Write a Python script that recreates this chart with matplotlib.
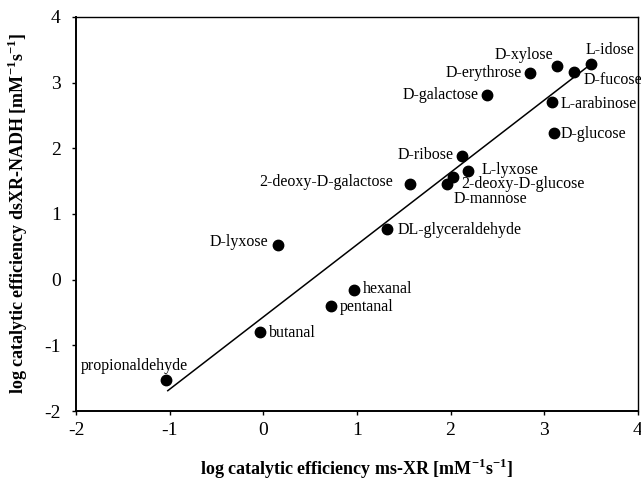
import numpy as np
import matplotlib
matplotlib.use('Agg')
import matplotlib.pyplot as plt

plt.rcParams['font.family'] = ['Liberation Serif', 'DejaVu Serif']
plt.rcParams['mathtext.fontset'] = 'custom'
plt.rcParams['mathtext.rm'] = 'Liberation Serif'
plt.rcParams['mathtext.bf'] = 'Liberation Serif:bold'
plt.rcParams['axes.unicode_minus'] = False

# substrates
names = ['propionaldehyde', 'butanal', 'pentanal', 'hexanal', 'D-lyxose',
         'DL-glyceraldehyde', '2-deoxy-D-galactose', 'D-mannose',
         '2-deoxy-D-glucose', 'L-lyxose', 'D-ribose', 'D-galactose',
         'D-erythrose', 'D-xylose', 'L-idose', 'D-fucose', 'L-arabinose',
         'D-glucose']
ms_xr = [-1.04, -0.03, 0.72, 0.97, 0.16, 1.32, 1.57, 1.96, 2.03, 2.19,
         2.12, 2.39, 2.85, 3.14, 3.50, 3.32, 3.08, 3.10]
ds_xr = [-1.53, -0.80, -0.40, -0.15, 0.52, 0.77, 1.45, 1.45, 1.56, 1.66,
         1.88, 2.81, 3.15, 3.25, 3.28, 3.16, 2.70, 2.24]

# regression line as drawn
fit_slope = 1.10
fit_intercept = -0.568
fit_xrange = [-1.02, 3.45]

# label placement: offset in pixels (dx, dy), horizontal alignment
label_pos = {
    'propionaldehyde': (-32, 14, 'center'),
    'butanal': (8, -1, 'left'),
    'pentanal': (9, -1, 'left'),
    'hexanal': (9, 1, 'left'),
    'D-lyxose': (-10, 3, 'right'),
    'DL-glyceraldehyde': (11, -1, 'left'),
    '2-deoxy-D-galactose': (-17, 2, 'right'),
    'D-mannose': (7, -15, 'left'),
    '2-deoxy-D-glucose': (8, -7, 'left'),
    'L-lyxose': (13, 1, 'left'),
    'D-ribose': (-8, 1, 'right'),
    'D-galactose': (-8, 0, 'right'),
    'D-erythrose': (-8, 0, 'right'),
    'D-xylose': (-4, 11, 'right'),
    'L-idose': (-5, 14, 'left'),
    'D-fucose': (9, -8, 'left'),
    'L-arabinose': (9, -2, 'left'),
    'D-glucose': (7, -1, 'left'),
}

fig = plt.figure(figsize=(6.41, 4.83), dpi=100)
ax = fig.add_axes([0.1186, 0.149, 0.8764, 0.816])

ax.plot(ms_xr, ds_xr, 'o', color='black', markersize=7.5, zorder=3)

xf = np.array(fit_xrange)
ax.plot(xf, fit_slope * xf + fit_intercept, color='black', lw=1.1, zorder=2)

px = 72 / 100
for n, x, y in zip(names, ms_xr, ds_xr):
    dx, dy, ha = label_pos[n]
    ax.annotate(n, (x, y), xytext=(dx * px, dy * px), textcoords='offset points',
                ha=ha, va='center', fontsize=11.5)

ax.set_xlim(-2, 4)
ax.set_ylim(-2, 4)
ax.set_xticks(range(-2, 5))
ax.set_yticks(range(-2, 5))
ax.tick_params(direction='out', length=3, width=1, labelsize=14, pad=5)
ax.tick_params(axis='y', pad=8)
for s in ['left', 'bottom']:
    ax.spines[s].set_linewidth(1.4)
for s in ['top', 'right']:
    ax.spines[s].set_linewidth(1.0)

ax.set_xlabel(r'log catalytic efficiency ms-XR [mM$^{\mathbf{-1}}$s$^{\mathbf{-1}}$]',
              fontsize=13, fontweight='bold', labelpad=13)
ax.set_ylabel(r'log catalytic efficiency dsXR-NADH [mM$^{\mathbf{-1}}$s$^{\mathbf{-1}}$]',
              fontsize=13, fontweight='bold', labelpad=10)

fig.savefig('out.png', dpi=100)
